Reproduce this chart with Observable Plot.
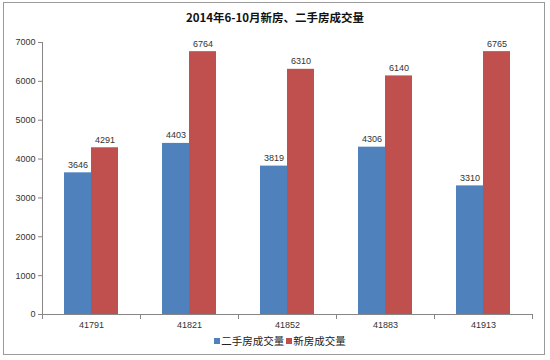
<!DOCTYPE html>
<html>
<head>
<meta charset="utf-8">
<script src="https://cdn.jsdelivr.net/npm/d3@7"></script>
<script src="https://cdn.jsdelivr.net/npm/@observablehq/plot@0.6"></script>
<style>
  html, body { margin: 0; padding: 0; background: #fff; }
  #wrap { position: relative; width: 550px; height: 360px; overflow: hidden; background: #fff; }
  #border { position: absolute; left: 3px; top: 2px; width: 540px; height: 351px; border: 1px solid #9a9a9a; pointer-events: none; }
  #title { height: 20px; padding-top: 10px; line-height: 14px; text-align: center; font-family: "Noto Sans CJK SC", sans-serif; font-weight: bold; font-size: 11.5px; color: #111; }
  #legend { padding-top: 5px; line-height: 12px; text-align: center; font-family: "Noto Sans CJK SC", sans-serif; font-size: 10.5px; color: #222; padding-left: 10px; }
  #legend .sw { display: inline-block; width: 6px; height: 6px; margin-right: 1px; vertical-align: 1px; }
  #legend .item { margin: 0 1px; }
  svg { display: block; }
</style>
</head>
<body>
<div id="wrap">
  <div id="title"></div>
  <div id="chart"></div>
  <div id="legend"></div>
  <div id="border"></div>
</div>
<script>
const chartTitle = "2014年6-10月新房、二手房成交量";
const dates = ["41791", "41821", "41852", "41883", "41913"];
const seriesNames = ["二手房成交量", "新房成交量"];
const secondHand = [3646, 4403, 3819, 4306, 3310];
const newHome = [4291, 6764, 6310, 6140, 6765];
const yTicks = [0, 1000, 2000, 3000, 4000, 5000, 6000, 7000];
const colors = ["#4F81BD", "#C0504D"];

const data = [];
dates.forEach((d, i) => {
  data.push({date: d, series: seriesNames[0], value: secondHand[i]});
  data.push({date: d, series: seriesNames[1], value: newHome[i]});
});

document.getElementById("title").textContent = chartTitle;

const W = 550, H = 300, mt = 12, mb = 16, ml = 41, mr = 17;
const innerH = H - mt - mb;

const chart = Plot.plot({
  width: W,
  height: H,
  marginTop: mt,
  marginBottom: mb,
  marginLeft: ml,
  marginRight: mr,
  style: {fontFamily: "'Liberation Sans', Arial, sans-serif", fontSize: "9px", color: "#333", background: "transparent"},
  fx: {domain: dates, padding: 0, label: null},
  x: {domain: seriesNames, paddingInner: 0, paddingOuter: 0.754, axis: null},
  y: {domain: [0, 7000], label: null},
  color: {domain: seriesNames, range: colors},
  marks: [
    Plot.barY(data, {fx: "date", x: "series", y: "value", fill: "series"}),
    Plot.text(data, {fx: "date", x: "series", y: "value", text: d => String(d.value), dy: -8, fontSize: 9, fill: "#333"}),
    Plot.ruleY([0], {stroke: "#868686"}),
    Plot.frame({anchor: "left", facetAnchor: "left", stroke: "#868686"}),
    Plot.frame({anchor: "left", insetTop: innerH, insetBottom: -4, stroke: "#868686"}),
    Plot.frame({anchor: "right", insetTop: innerH, insetBottom: -4, stroke: "#868686"}),
    Plot.axisY({ticks: yTicks, tickSize: 4, tickPadding: 3, fontSize: 9, stroke: "#868686", fill: "#333", label: null, tickFormat: d => String(d)}),
    Plot.axisFx({anchor: "bottom", tickSize: 0, tickPadding: 7, fontSize: 9, fill: "#333", label: null})
  ]
});
document.getElementById("chart").appendChild(chart);

const legend = document.getElementById("legend");
seriesNames.forEach((name, i) => {
  const item = document.createElement("span");
  item.className = "item";
  const sw = document.createElement("span");
  sw.className = "sw";
  sw.style.background = colors[i];
  item.appendChild(sw);
  item.appendChild(document.createTextNode(name));
  legend.appendChild(item);
});
</script>
</body>
</html>
